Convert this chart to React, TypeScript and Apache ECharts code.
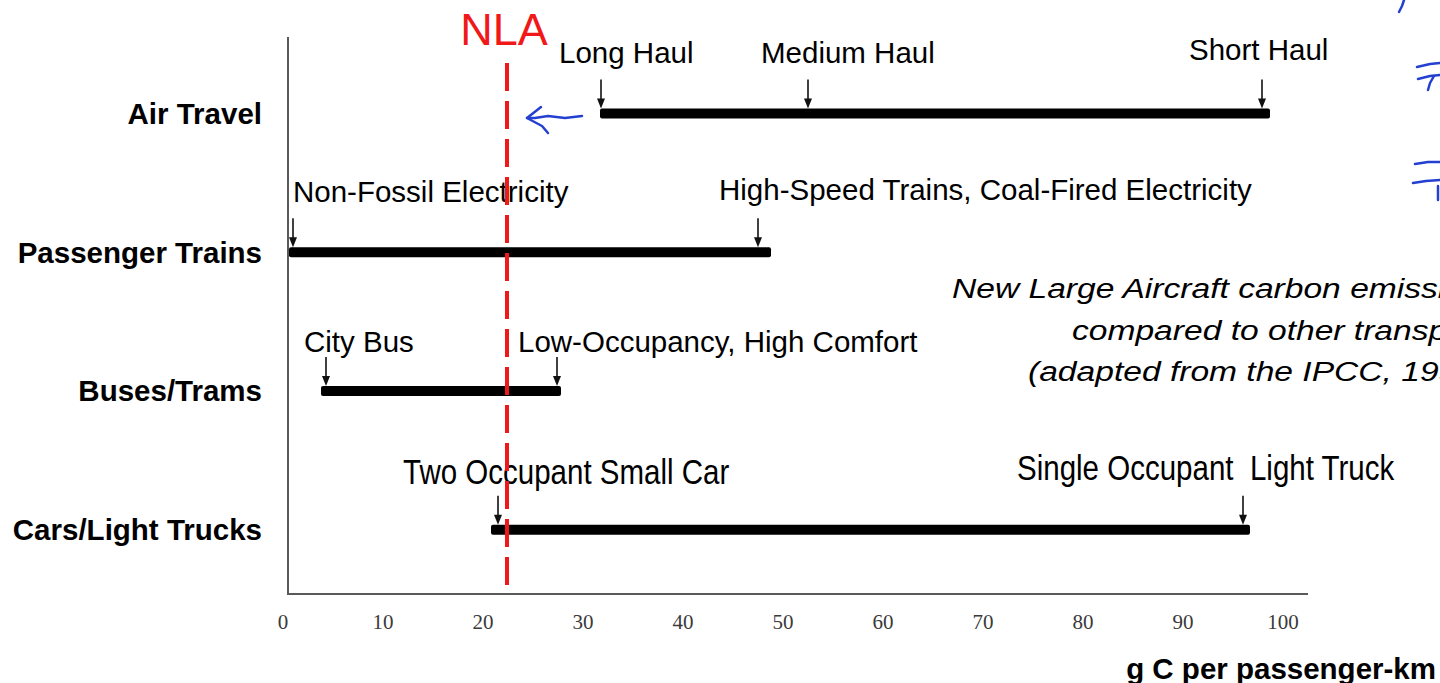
import React, { useEffect, useRef } from 'react';
import * as echarts from 'echarts';

// ---- data ----
const categories = ['Air Travel', 'Passenger Trains', 'Buses/Trams', 'Cars/Light Trucks'];
const rangeStart = [31.7, 0.6, 3.8, 20.8];
const rangeEnd = [98.7, 48.8, 27.8, 96.7];

const markerNames = [
  'Long Haul',
  'Medium Haul',
  'Short Haul',
  'Non-Fossil Electricity',
  'High-Speed Trains, Coal-Fired Electricity',
  'City Bus',
  'Low-Occupancy, High Comfort',
  'Two Occupant Small Car',
  'Single Occupant  Light Truck',
];
const markerRow = [0, 0, 0, 1, 1, 2, 2, 3, 3];
const markerValue = [31.8, 52.5, 97.9, 1.0, 47.5, 4.3, 27.4, 21.5, 96.0];

const nlaValue = 22.4;
const nlaLabel = 'NLA';

const xMin = 0;
const xMax = 100;
const xInterval = 10;

const noteLines = [
  'New Large Aircraft carbon emissions',
  'compared to other transport modes',
  '(adapted from the IPCC, 1999)',
];
const xAxisName = 'g C per passenger-km';

// ---- styling (pixel offsets of the annotation texts relative to their arrow) ----
const LABEL_OFFSET: [number, number][] = [
  [-42, -60.5],
  [-47, -60.5],
  [-73, -63.5],
  [0, -60.5],
  [-39, -62.5],
  [-22, -49.5],
  [-39, -49.5],
  [-95, -58.5],
  [-226, -62.5],
];
const CONDENSED_ROW = 3;
const FONT = '"Liberation Sans", Arial, Helvetica, sans-serif';
const BLUE = '#2340d0';
const RED = '#f01818';

export default function App() {
  const ref = useRef<HTMLDivElement>(null);

  useEffect(() => {
    if (!ref.current) return;
    const chart = echarts.init(ref.current, undefined, { renderer: 'svg' });

    const barData = categories.map((_, i) => [rangeStart[i], rangeEnd[i], i]);
    const markerData = markerNames.map((_, i) => [markerValue[i], markerRow[i], i]);

    const blueStroke = (points: number[][]) => ({
      type: 'polyline',
      shape: { points },
      style: { stroke: BLUE, lineWidth: 2.5, fill: null, lineCap: 'round', lineJoin: 'round' },
      z: 6,
    });

    const option: any = {
      animation: false,
      backgroundColor: '#ffffff',
      grid: { left: 283, right: 157, top: 44, bottom: 83, containLabel: false },
      xAxis: {
        type: 'value',
        min: xMin,
        max: xMax,
        interval: xInterval,
        name: xAxisName,
        nameLocation: 'end',
        nameGap: 153,
        nameTextStyle: {
          fontFamily: FONT,
          fontSize: 29.5,
          fontWeight: 'bold',
          color: '#000',
          align: 'right',
          verticalAlign: 'top',
          padding: [54, 0, 0, 0],
        },
        axisLine: { show: false },
        axisTick: { show: false },
        splitLine: { show: false },
        axisLabel: {
          fontFamily: '"Liberation Serif", "DejaVu Serif", serif',
          fontSize: 21,
          color: '#3a3a3a',
          margin: 12,
        },
      },
      yAxis: {
        type: 'category',
        data: categories,
        inverse: true,
        axisLine: { show: false },
        axisTick: { show: false },
        splitLine: { show: false },
        axisLabel: {
          fontFamily: FONT,
          fontSize: 29.5,
          fontWeight: 'bold',
          color: '#000',
          margin: 21,
        },
      },
      graphic: [
        // plot frame (left and bottom axis lines)
        {
          type: 'polyline',
          shape: { points: [[288, 37], [288, 594], [1308, 594]] },
          style: { stroke: '#5a5a5a', lineWidth: 2, fill: null },
          z: 1,
        },
        // explanatory note
        ...noteLines.map((t, i) => ({
          type: 'text',
          x: [952, 1072, 1028][i],
          y: [288, 330, 371][i],
          scaleX: 1.2,
          style: {
            text: t,
            font: `italic 28px ${FONT}`,
            fill: '#000',
            textAlign: 'left',
            textVerticalAlign: 'middle',
          },
          z: 5,
        })),
        // hand drawn blue arrow
        blueStroke([[582, 116], [565, 118], [548, 116], [535, 118], [527, 118]]),
        blueStroke([[541, 107], [527, 118], [542, 126], [548, 133]]),
        // blue scribbles at right edge
        blueStroke([[1404, 0], [1402, 6], [1399, 12]]),
        blueStroke([[1417, 67], [1430, 64], [1440, 63]]),
        blueStroke([[1418, 79], [1430, 76], [1440, 75]]),
        blueStroke([[1434, 76], [1430, 83], [1428, 90]]),
        blueStroke([[1415, 164], [1428, 162], [1440, 162]]),
        blueStroke([[1413, 183], [1426, 181], [1440, 180]]),
        blueStroke([[1438, 186], [1438, 200]]),
      ],
      series: [
        {
          name: 'range',
          type: 'custom',
          data: barData,
          encode: { x: [0, 1], y: 2 },
          z: 2,
          renderItem: (params: any, api: any) => {
            const p1 = api.coord([api.value(0), api.value(2)]);
            const p2 = api.coord([api.value(1), api.value(2)]);
            return {
              type: 'rect',
              shape: { x: p1[0], y: p1[1] - 5, width: p2[0] - p1[0], height: 10, r: 2 },
              style: { fill: '#000' },
            };
          },
        },
        {
          name: 'markers',
          type: 'custom',
          data: markerData,
          encode: { x: 0, y: 1 },
          z: 3,
          renderItem: (params: any, api: any) => {
            const idx = api.value(2);
            const row = api.value(1);
            const p = api.coord([api.value(0), row]);
            const x = p[0];
            const y = p[1];
            const off = LABEL_OFFSET[idx];
            const condensed = row === CONDENSED_ROW;
            return {
              type: 'group',
              children: [
                {
                  type: 'line',
                  shape: { x1: x, y1: y - 34, x2: x, y2: y - 10 },
                  style: { stroke: '#111', lineWidth: 1.6 },
                },
                {
                  type: 'polygon',
                  shape: { points: [[x - 4, y - 15], [x + 4, y - 15], [x, y - 5]] },
                  style: { fill: '#111' },
                },
                {
                  type: 'text',
                  x: x + off[0],
                  y: y + off[1],
                  scaleX: condensed ? 0.82 : 1,
                  style: {
                    text: markerNames[idx],
                    font: `${condensed ? 36 : 29.5}px ${FONT}`,
                    fill: '#000',
                    textAlign: 'left',
                    textVerticalAlign: 'middle',
                  },
                },
              ],
            };
          },
        },
        {
          name: 'NLA',
          type: 'custom',
          data: [[nlaValue, 0]],
          encode: { x: 0 },
          z: 4,
          renderItem: (params: any, api: any) => {
            const x = api.coord([api.value(0), 0])[0];
            const cs = params.coordSys;
            return {
              type: 'group',
              children: [
                {
                  type: 'line',
                  shape: { x1: x, y1: cs.y + 19, x2: x, y2: cs.y + cs.height - 10 },
                  style: { stroke: RED, lineWidth: 4, lineDash: [28, 10] },
                },
                {
                  type: 'text',
                  x: x - 3,
                  y: cs.y - 15,
                  style: {
                    text: nlaLabel,
                    font: `45px ${FONT}`,
                    fill: RED,
                    textAlign: 'center',
                    textVerticalAlign: 'middle',
                  },
                },
              ],
            };
          },
        },
      ],
    };

    chart.setOption(option);
    return () => chart.dispose();
  }, []);

  return (
    <div
      ref={ref}
      style={{ position: 'fixed', left: 0, top: 0, width: 1440, height: 683, background: '#fff' }}
    />
  );
}
